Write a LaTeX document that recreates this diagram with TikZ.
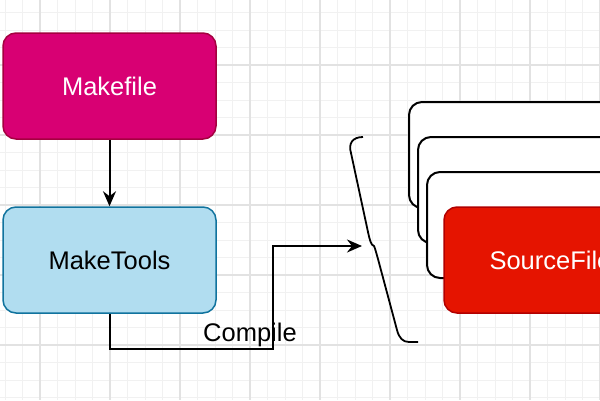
\documentclass[tikz,border=0pt]{standalone}
\usepackage{fontspec}
\setmainfont{Liberation Sans}
\usetikzlibrary{arrows.meta}
\definecolor{gminor}{HTML}{F1F1F1}
\definecolor{gmajor}{HTML}{E2E2E2}
\definecolor{mkfill}{HTML}{D80073}
\definecolor{mkdraw}{HTML}{A50040}
\definecolor{mtfill}{HTML}{B1DDF0}
\definecolor{mtdraw}{HTML}{10739E}
\definecolor{sffill}{HTML}{E51400}
\definecolor{sfdraw}{HTML}{B20000}
\tikzset{
  box/.style={rectangle, rounded corners=13pt, minimum width=213pt, minimum height=106pt, inner sep=0pt, line width=1.5pt, font=\fontsize{25.5}{30}\selectfont},
  stackbox/.style={box, draw=black, fill=white, line width=2pt},
  conn/.style={draw=black, line width=2pt},
  tip/.style={-{Stealth[length=15pt,width=13pt,inset=5pt]}},
}
\begin{document}
\begin{tikzpicture}[x=1pt,y=-1pt]
\useasboundingbox (0,0) rectangle (600,400);
\clip (0,0) rectangle (600,400);
\fill[white] (0,0) rectangle (600,400);
\foreach \i in {0,...,34} {
  \draw[gminor, line width=0.9pt] ({5+17.5*\i},0) -- ({5+17.5*\i},400);
}
\foreach \i in {0,...,23} {
  \draw[gminor, line width=0.9pt] (0,{12.5+17.5*\i}) -- (600,{12.5+17.5*\i});
}
\foreach \i in {0,...,8} {
  \draw[gmajor, line width=1.1pt] ({40+70*\i},0) -- ({40+70*\i},400);
}
\foreach \i in {-1,...,5} {
  \draw[gmajor, line width=1.1pt] (0,{65+70*\i}) -- (600,{65+70*\i});
}

\node[box, fill=mkfill, draw=mkdraw, text=white] (mk) at (109.5,86) {Makefile};
\node[box, fill=mtfill, draw=mtdraw, text=black] (mt) at (109.5,260) {MakeTools};

\node[stackbox] (s1) at (515.5,155) {};
\node[stackbox] (s2) at (524.5,190) {};
\node[stackbox] (s3) at (533.5,225) {};
\node[box, fill=sffill, draw=sfdraw, text=white] (sf) at (550.5,260) {SourceFile};

\draw[conn, tip] (mk.south) -- (mt.north);

\coordinate (c1) at (273,349);
\coordinate (bt) at (362,246);
\draw[conn, tip] (mt.south) |- (c1) |- (bt);
\node[font=\fontsize{25.5}{30}\selectfont, inner sep=0pt, anchor=base] (lbl) at (250,341) {Compile};

\draw[black, line width=1.8pt]
  (363,137) .. controls (353,137) and (348,143) .. (351,153)
  -- (368,232) .. controls (370,241) and (371,245) .. (374,246)
  .. controls (375,248) and (376,252) .. (378,259)
  -- (397,330) .. controls (399,338) and (403,342) .. (409,342)
  -- (418,342);
\end{tikzpicture}
\end{document}
